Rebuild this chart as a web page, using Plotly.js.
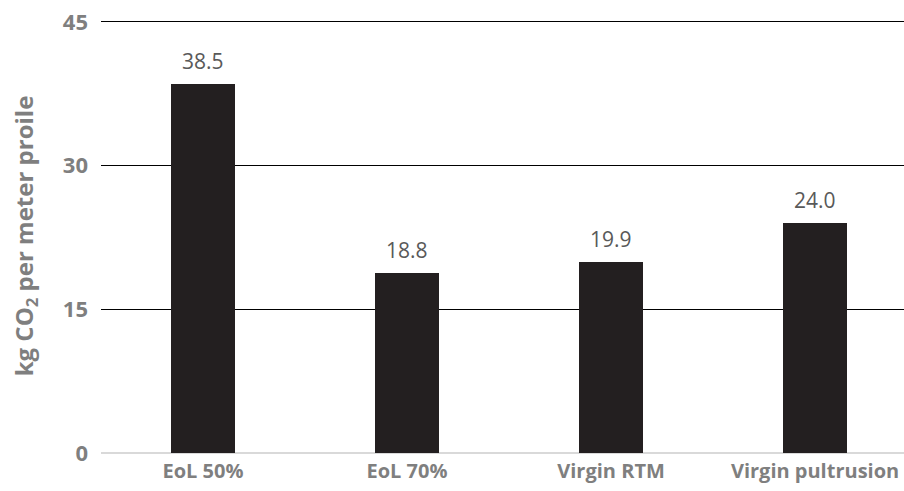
<!DOCTYPE html>
<html><head><meta charset="utf-8">
<script src="https://cdn.plot.ly/plotly-3.0.1.min.js"></script>
<style>html,body{margin:0;padding:0;background:#fff}</style>
</head><body>
<div id="chart" style="width:904px;height:491px"></div>
<script>
const categories = ["EoL 50%", "EoL 70%", "Virgin RTM", "Virgin pultrusion"];
const values = [38.5, 18.8, 19.9, 24.0];
const valueLabels = ["38.5", "18.8", "19.9", "24.0"];
const yTicks = [0, 15, 30, 45];

const gray = "#7f7f7f";
const trace = {
  type: "bar",
  x: categories,
  y: values,
  width: 0.314,
  marker: {color: "#231f20"},
  hoverinfo: "none"
};
const annotations = categories.map((c, i) => ({
  x: c, y: values[i], xref: "x", yref: "y",
  text: valueLabels[i], showarrow: false, yanchor: "bottom", yshift: 7,
  font: {family: "Open Sans, sans-serif", size: 21, color: "#595959"}
}));
const layout = {
  width: 904, height: 491,
  margin: {l: 101, r: 0, t: 19, b: 38},
  paper_bgcolor: "#fff", plot_bgcolor: "#fff",
  showlegend: false,
  bargap: 0,
  xaxis: {
    type: "category", range: [-0.5, 3.436],
    showgrid: false, showline: false, zeroline: false, ticks: "",
    ticklabelstandoff: 4,
    tickfont: {family: "Open Sans, sans-serif", size: 20, color: gray, weight: "bold"}
  },
  yaxis: {
    range: [0, 45.3], tickvals: yTicks, ticktext: yTicks.map(String),
    showgrid: true, gridcolor: "#000", gridwidth: 1,
    zeroline: true, zerolinecolor: "#d9d9d9", zerolinewidth: 2,
    showline: false, ticks: "", ticklen: 0,
    ticklabelstandoff: 12,
    tickfont: {family: "Open Sans, sans-serif", size: 22, color: gray, weight: "bold"},
    title: {text: "kg CO<sub>2</sub> per meter proile", standoff: 22,
      font: {family: "Open Sans, sans-serif", size: 24, color: gray, weight: "bold"}}
  },
  annotations: annotations
};
Plotly.newPlot("chart", [trace], layout, {displayModeBar: false, staticPlot: true});
</script>
</body></html>
